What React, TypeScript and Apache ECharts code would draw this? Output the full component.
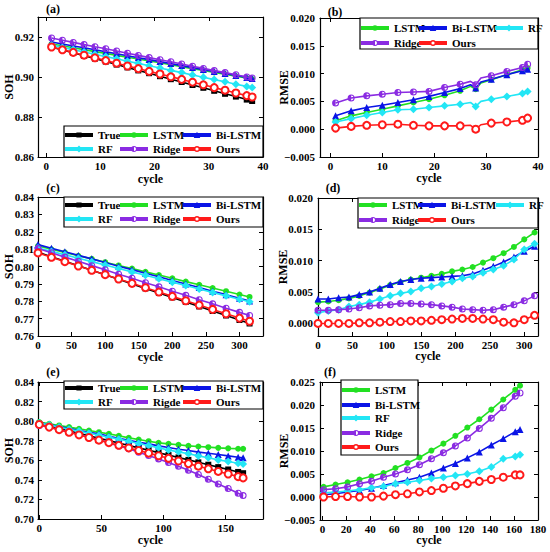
import React, { useEffect, useRef } from "react";
import * as echarts from "echarts";

const FONT = '"Liberation Serif", "Times New Roman", serif';

// ---------- (a) SOH, 38 cycles ----------
const A_X = [1, 3, 5, 7, 9, 11, 13, 15, 17, 19, 21, 23, 25, 27, 29, 31, 33, 35, 37, 38];
const A_TRUE = [0.9150, 0.9135, 0.9121, 0.9106, 0.9092, 0.9077, 0.9062, 0.9048, 0.9033, 0.9019, 0.9004, 0.8989, 0.8975, 0.8960, 0.8946, 0.8931, 0.8916, 0.8902, 0.8887, 0.8880];
const A_LSTM = [0.9165, 0.9156, 0.9146, 0.9137, 0.9127, 0.9118, 0.9108, 0.9099, 0.9090, 0.9080, 0.9071, 0.9061, 0.9052, 0.9042, 0.9033, 0.9023, 0.9014, 0.9004, 0.8995, 0.8990];
const A_BILSTM = [0.9175, 0.9165, 0.9155, 0.9146, 0.9136, 0.9126, 0.9116, 0.9106, 0.9096, 0.9087, 0.9077, 0.9067, 0.9057, 0.9047, 0.9037, 0.9028, 0.9018, 0.9008, 0.8998, 0.8993];
const A_RF = [0.9160, 0.9148, 0.9137, 0.9125, 0.9114, 0.9102, 0.9091, 0.9079, 0.9068, 0.9056, 0.9045, 0.9033, 0.9022, 0.9010, 0.8999, 0.8987, 0.8976, 0.8964, 0.8953, 0.8947];
const A_RIDGE = [0.9195, 0.9184, 0.9173, 0.9162, 0.9151, 0.9141, 0.9130, 0.9119, 0.9108, 0.9097, 0.9086, 0.9076, 0.9065, 0.9054, 0.9043, 0.9032, 0.9022, 0.9011, 0.9000, 0.8995];
const A_OURS = [0.9150, 0.9136, 0.9123, 0.9109, 0.9096, 0.9082, 0.9069, 0.9055, 0.9042, 0.9028, 0.9015, 0.9001, 0.8988, 0.8974, 0.8961, 0.8947, 0.8934, 0.8920, 0.8907, 0.8900];

// ---------- (b) RMSE, 38 cycles ----------
const B_X = [1, 4, 7, 10, 13, 16, 19, 22, 25, 27, 28, 29, 31, 34, 37, 38];
const B_NOMARK = [27, 29];
const B_LSTM = [0.0015, 0.0024, 0.0030, 0.0036, 0.0042, 0.0048, 0.0054, 0.0061, 0.0069, 0.0077, 0.0072, 0.0083, 0.0089, 0.0098, 0.0107, 0.0110];
const B_BILSTM = [0.0024, 0.0033, 0.0039, 0.0043, 0.0048, 0.0053, 0.0059, 0.0066, 0.0073, 0.0080, 0.0074, 0.0085, 0.0090, 0.0098, 0.0105, 0.0108];
const B_RF = [0.0013, 0.0019, 0.0025, 0.0030, 0.0035, 0.0036, 0.0039, 0.0042, 0.0045, 0.0048, 0.0041, 0.0050, 0.0054, 0.0059, 0.0064, 0.0068];
const B_RIDGE = [0.0047, 0.0056, 0.0060, 0.0063, 0.0066, 0.0067, 0.0068, 0.0075, 0.0081, 0.0086, 0.0080, 0.0092, 0.0096, 0.0104, 0.0111, 0.0117];
const B_OURS = [0.0002, 0.0005, 0.0007, 0.0008, 0.0009, 0.0007, 0.0006, 0.0006, 0.0006, 0.0007, 0.0000, 0.0008, 0.0011, 0.0013, 0.0016, 0.0020];

// ---------- (c) SOH, 315 cycles ----------
const C_X = [0, 20, 40, 60, 80, 100, 120, 140, 160, 180, 200, 220, 240, 260, 280, 300, 315];
const C_TRUE = [0.8082, 0.8056, 0.8030, 0.8004, 0.7978, 0.7952, 0.7926, 0.7900, 0.7874, 0.7848, 0.7822, 0.7796, 0.7770, 0.7744, 0.7718, 0.7692, 0.7672];
const C_LSTM = [0.8118, 0.8099, 0.8081, 0.8062, 0.8044, 0.8025, 0.8006, 0.7988, 0.7969, 0.7951, 0.7932, 0.7913, 0.7895, 0.7876, 0.7858, 0.7839, 0.7825];
const C_BILSTM = [0.8126, 0.8105, 0.8085, 0.8064, 0.8044, 0.8023, 0.8002, 0.7982, 0.7961, 0.7941, 0.7920, 0.7899, 0.7879, 0.7858, 0.7838, 0.7817, 0.7802];
const C_RF = [0.8107, 0.8087, 0.8068, 0.8048, 0.8028, 0.8009, 0.7989, 0.7969, 0.7950, 0.7930, 0.7910, 0.7891, 0.7871, 0.7851, 0.7831, 0.7812, 0.7797];
const C_RIDGE = [0.8103, 0.8079, 0.8054, 0.8030, 0.8005, 0.7981, 0.7956, 0.7932, 0.7907, 0.7883, 0.7858, 0.7834, 0.7809, 0.7785, 0.7760, 0.7736, 0.7718];
const C_OURS = [0.8078, 0.8053, 0.8028, 0.8003, 0.7978, 0.7953, 0.7928, 0.7903, 0.7878, 0.7853, 0.7828, 0.7803, 0.7778, 0.7753, 0.7728, 0.7703, 0.7685];

// ---------- (d) RMSE, 315 cycles ----------
const D_X = [0, 15, 30, 45, 60, 75, 90, 105, 120, 135, 150, 165, 180, 195, 210, 225, 240, 255, 270, 285, 300, 315];
const D_LSTM = [0.0034, 0.0035, 0.0037, 0.0040, 0.0044, 0.0049, 0.0055, 0.0061, 0.0066, 0.0070, 0.0073, 0.0076, 0.0079, 0.0083, 0.0086, 0.0090, 0.0097, 0.0104, 0.0112, 0.0122, 0.0134, 0.0145];
const D_BILSTM = [0.0039, 0.0039, 0.0041, 0.0042, 0.0046, 0.0050, 0.0056, 0.0062, 0.0067, 0.0070, 0.0072, 0.0073, 0.0074, 0.0075, 0.0076, 0.0079, 0.0085, 0.0091, 0.0098, 0.0106, 0.0115, 0.0123];
const D_RF = [0.0017, 0.0020, 0.0022, 0.0027, 0.0030, 0.0034, 0.0039, 0.0044, 0.0048, 0.0051, 0.0056, 0.0059, 0.0063, 0.0067, 0.0072, 0.0075, 0.0081, 0.0086, 0.0092, 0.0102, 0.0118, 0.0127];
const D_RIDGE = [0.0021, 0.0021, 0.0022, 0.0023, 0.0025, 0.0028, 0.0029, 0.0030, 0.0032, 0.0032, 0.0031, 0.0030, 0.0028, 0.0026, 0.0023, 0.0022, 0.0021, 0.0022, 0.0026, 0.0030, 0.0036, 0.0044];
const D_OURS = [0.0000, 0.0000, 0.0000, 0.0000, 0.0001, 0.0001, 0.0002, 0.0003, 0.0003, 0.0004, 0.0004, 0.0005, 0.0006, 0.0007, 0.0008, 0.0008, 0.0007, 0.0006, 0.0002, 0.0001, 0.0006, 0.0013];

// ---------- (e) SOH, 164 cycles ----------
const E_X = [0, 8, 16, 24, 32, 40, 48, 56, 64, 72, 80, 88, 96, 104, 112, 120, 128, 136, 144, 152, 160, 164];
const E_TRUE = [0.7973, 0.7948, 0.7924, 0.7899, 0.7875, 0.7850, 0.7825, 0.7801, 0.7776, 0.7752, 0.7727, 0.7702, 0.7678, 0.7653, 0.7629, 0.7604, 0.7579, 0.7555, 0.7530, 0.7506, 0.7481, 0.7468];
const E_LSTM = [0.7990, 0.7973, 0.7956, 0.7939, 0.7922, 0.7904, 0.7887, 0.7870, 0.7850, 0.7829, 0.7812, 0.7795, 0.7778, 0.7768, 0.7758, 0.7747, 0.7741, 0.7734, 0.7727, 0.7722, 0.7718, 0.7717];
const E_BILSTM = [0.7983, 0.7966, 0.7945, 0.7928, 0.7904, 0.7887, 0.7870, 0.7846, 0.7826, 0.7805, 0.7785, 0.7768, 0.7747, 0.7730, 0.7713, 0.7700, 0.7683, 0.7672, 0.7659, 0.7645, 0.7631, 0.7625];
const E_RF = [0.7980, 0.7962, 0.7939, 0.7918, 0.7898, 0.7877, 0.7857, 0.7836, 0.7816, 0.7795, 0.7771, 0.7751, 0.7727, 0.7706, 0.7686, 0.7666, 0.7645, 0.7625, 0.7604, 0.7587, 0.7570, 0.7563];
const E_RIGDE = [0.7956, 0.7939, 0.7911, 0.7887, 0.7863, 0.7836, 0.7809, 0.7778, 0.7747, 0.7717, 0.7683, 0.7648, 0.7614, 0.7577, 0.7539, 0.7498, 0.7454, 0.7406, 0.7358, 0.7311, 0.7263, 0.7239];
const E_OURS = [0.7966, 0.7939, 0.7913, 0.7886, 0.7859, 0.7833, 0.7806, 0.7780, 0.7753, 0.7726, 0.7700, 0.7673, 0.7646, 0.7620, 0.7593, 0.7566, 0.7540, 0.7513, 0.7486, 0.7460, 0.7433, 0.7420];

// ---------- (f) RMSE, 165 cycles ----------
const F_X = [1, 11, 21, 31, 41, 51, 61, 71, 81, 91, 101, 111, 121, 131, 141, 151, 161, 165];
const F_LSTM = [0.0022, 0.0027, 0.0032, 0.0038, 0.0045, 0.0052, 0.0063, 0.0074, 0.0086, 0.0101, 0.0116, 0.0133, 0.0151, 0.0169, 0.0190, 0.0212, 0.0233, 0.0242];
const F_BILSTM = [0.0005, 0.0007, 0.0011, 0.0014, 0.0019, 0.0025, 0.0031, 0.0037, 0.0043, 0.0052, 0.0063, 0.0073, 0.0085, 0.0098, 0.0113, 0.0127, 0.0142, 0.0147];
const F_RF = [0.0009, 0.0011, 0.0013, 0.0016, 0.0020, 0.0023, 0.0029, 0.0032, 0.0036, 0.0040, 0.0043, 0.0047, 0.0050, 0.0056, 0.0065, 0.0083, 0.0088, 0.0092];
const F_RIDGE = [0.0016, 0.0018, 0.0022, 0.0029, 0.0034, 0.0043, 0.0050, 0.0059, 0.0070, 0.0083, 0.0096, 0.0111, 0.0128, 0.0149, 0.0171, 0.0194, 0.0219, 0.0226];
const F_OURS = [0.0000, 0.0001, 0.0001, 0.0000, 0.0000, 0.0002, 0.0005, 0.0007, 0.0011, 0.0014, 0.0019, 0.0024, 0.0029, 0.0034, 0.0038, 0.0043, 0.0048, 0.0048];

// ---------- tick values ----------
const X_TICKS_38 = [0, 10, 20, 30, 40];
const X_TICKS_300 = [0, 50, 100, 150, 200, 250, 300];
const X_TICKS_150 = [0, 50, 100, 150];
const X_TICKS_180 = [0, 20, 40, 60, 80, 100, 120, 140, 160, 180];
const Y_TICKS_A = [0.86, 0.88, 0.9, 0.92];
const Y_TICKS_B = [-0.005, 0, 0.005, 0.01, 0.015, 0.02];
const Y_TICKS_C = [0.76, 0.77, 0.78, 0.79, 0.8, 0.81, 0.82, 0.83, 0.84];
const Y_TICKS_D = [0, 0.005, 0.01, 0.015, 0.02];
const Y_TICKS_E = [0.7, 0.72, 0.74, 0.76, 0.78, 0.8, 0.82, 0.84];
const Y_TICKS_F = [-0.005, 0, 0.005, 0.01, 0.015, 0.02, 0.025];

// plot markers
const HALF = "path://M10,0A10,10,0,1,1,10,20A10,10,0,1,1,10,0ZM10,3L10,17A7,7,0,0,0,10,3Z";

// legend icons (exact 28 x 8 box, fixed by two tiny corner specks): thick line + small marker
const CORNERS = "M0,0L0.01,0L0,0.01ZM28,8L27.99,8L28,7.99Z";
const BAR_FULL = "M0,2H28V6H0Z";
const BAR_SPLIT = "M0,2H12V6H0ZM16,2H28V6H16Z";
const RING = "M16.9,4A2.9,2.9,0,1,1,11.1,4A2.9,2.9,0,1,1,16.9,4Z";
const ICONS: Record<string, string> = {
  True: "path://" + CORNERS + BAR_FULL + "M11.4,1.4H16.6V6.6H11.4Z",
  LSTM: "path://" + CORNERS + BAR_FULL + "M16.8,4A2.8,2.8,0,1,1,11.2,4A2.8,2.8,0,1,1,16.8,4Z",
  "Bi-LSTM": "path://" + CORNERS + BAR_FULL + "M14,0.8L17.3,6.9L10.7,6.9Z",
  RF: "path://" + CORNERS + BAR_FULL + "M14,0.6L17.4,4L14,7.4L10.6,4Z",
  Ridge: "path://" + CORNERS + BAR_SPLIT + RING + "M14,2L14,6A2,2,0,0,0,14,2Z",
  Rigde: "path://" + CORNERS + BAR_SPLIT + RING + "M14,2L14,6A2,2,0,0,0,14,2Z",
  Ours: "path://" + CORNERS + BAR_SPLIT + RING + "M15.6,4A1.6,1.6,0,1,0,12.4,4A1.6,1.6,0,1,0,15.6,4Z",
};

const STYLES: Record<string, { color: string; symbol: string; size: number }> = {
  True: { color: "#000000", symbol: "rect", size: 6 },
  LSTM: { color: "#22e022", symbol: "circle", size: 6 },
  "Bi-LSTM": { color: "#0a14e6", symbol: "triangle", size: 7 },
  RF: { color: "#22e6f5", symbol: "diamond", size: 8 },
  Ridge: { color: "#8a2be2", symbol: HALF, size: 7 },
  Rigde: { color: "#8a2be2", symbol: HALF, size: 7 },
  Ours: { color: "#ff1a1a", symbol: "emptyCircle", size: 7 },
};

const COLS3 = [65, 120, 183];

const PANELS: any[] = [
  {
    label: "(a)", labelPos: [53, 9],
    grid: { left: 38, top: 17, width: 225, height: 140 },
    xMin: -1.5, xMax: 40, xTicks: X_TICKS_38, xNameGap: 16,
    yMin: 0.86, yMax: 0.93, yTicks: Y_TICKS_A, yDec: 2, yName: "SOH", yNameGap: 23, yLabelMargin: 4,
    x: A_X, noMark: [],
    series: [["True", A_TRUE], ["LSTM", A_LSTM], ["Bi-LSTM", A_BILSTM], ["RF", A_RF], ["Ridge", A_RIDGE], ["Ours", A_OURS]],
    legend: [["True", COLS3[0], 135], ["LSTM", COLS3[1], 135], ["Bi-LSTM", COLS3[2], 135], ["RF", COLS3[0], 149], ["Ridge", COLS3[1], 149], ["Ours", COLS3[2], 149]],
    box: [64, 126, 199, 31],
  },
  {
    label: "(b)", labelPos: [335, 12],
    grid: { left: 320, top: 18, width: 218, height: 139 },
    xMin: -2, xMax: 40, xTicks: X_TICKS_38, xNameGap: 15,
    yMin: -0.005, yMax: 0.02, yTicks: Y_TICKS_B, yDec: 3, yName: "RMSE", yNameGap: 30, yLabelMargin: 5,
    x: B_X, noMark: B_NOMARK,
    series: [["LSTM", B_LSTM], ["Bi-LSTM", B_BILSTM], ["RF", B_RF], ["Ridge", B_RIDGE], ["Ours", B_OURS]],
    legend: [["LSTM", 361, 28], ["Bi-LSTM", 419, 28], ["RF", 495, 28], ["Ridge", 361, 43], ["Ours", 419, 43]],
    box: [360, 18, 178, 31],
  },
  {
    label: "(c)", labelPos: [53, 188],
    grid: { left: 38, top: 197, width: 225, height: 139 },
    xMin: 0, xMax: 335, xTicks: X_TICKS_300, xNameGap: 15,
    yMin: 0.76, yMax: 0.84, yTicks: Y_TICKS_C, yDec: 2, yName: "SOH", yNameGap: 23, yLabelMargin: 4,
    x: C_X, noMark: [],
    series: [["True", C_TRUE], ["LSTM", C_LSTM], ["Bi-LSTM", C_BILSTM], ["RF", C_RF], ["Ridge", C_RIDGE], ["Ours", C_OURS]],
    legend: [["True", COLS3[0], 205], ["LSTM", COLS3[1], 205], ["Bi-LSTM", COLS3[2], 205], ["RF", COLS3[0], 219], ["Ridge", COLS3[1], 219], ["Ours", COLS3[2], 219]],
    box: [64, 197, 199, 30],
  },
  {
    label: "(d)", labelPos: [333, 188],
    grid: { left: 318, top: 198, width: 220, height: 138 },
    xMin: 0, xMax: 320, xTicks: X_TICKS_300, xNameGap: 14,
    yMin: -0.002, yMax: 0.02, yTicks: Y_TICKS_D, yDec: 3, yName: "RMSE", yNameGap: 29, yLabelMargin: 5,
    x: D_X, noMark: [],
    series: [["LSTM", D_LSTM], ["Bi-LSTM", D_BILSTM], ["RF", D_RF], ["Ridge", D_RIDGE], ["Ours", D_OURS]],
    legend: [["LSTM", 359, 205], ["Bi-LSTM", 418, 205], ["RF", 496, 205], ["Ridge", 359, 220], ["Ours", 418, 220]],
    box: [358, 198, 180, 30],
  },
  {
    label: "(e)", labelPos: [53, 372],
    grid: { left: 38, top: 382, width: 225, height: 137 },
    xMin: -1, xMax: 180, xTicks: X_TICKS_150, xNameGap: 15,
    yMin: 0.7, yMax: 0.84, yTicks: Y_TICKS_E, yDec: 2, yName: "SOH", yNameGap: 23, yLabelMargin: 4,
    x: E_X, noMark: [],
    series: [["True", E_TRUE], ["LSTM", E_LSTM], ["Bi-LSTM", E_BILSTM], ["RF", E_RF], ["Rigde", E_RIGDE], ["Ours", E_OURS]],
    legend: [["True", COLS3[0], 388], ["LSTM", COLS3[1], 388], ["Bi-LSTM", COLS3[2], 388], ["RF", COLS3[0], 402], ["Rigde", COLS3[1], 402], ["Ours", COLS3[2], 402]],
    box: [64, 381, 199, 28],
  },
  {
    label: "(f)", labelPos: [330, 372],
    grid: { left: 320, top: 382, width: 218, height: 138 },
    xMin: -2, xMax: 180, xTicks: X_TICKS_180, xNameGap: 14,
    yMin: -0.005, yMax: 0.025, yTicks: Y_TICKS_F, yDec: 3, yName: "RMSE", yNameGap: 30, yLabelMargin: 5,
    x: F_X, noMark: [],
    series: [["LSTM", F_LSTM], ["Bi-LSTM", F_BILSTM], ["RF", F_RF], ["Ridge", F_RIDGE], ["Ours", F_OURS]],
    legend: [["LSTM", 342, 390], ["Bi-LSTM", 342, 405], ["RF", 342, 418], ["Ridge", 342, 433], ["Ours", 342, 447]],
    box: [341, 380, 77, 75],
  },
];

function buildOption() {
  const grids: any[] = [];
  const xAxes: any[] = [];
  const yAxes: any[] = [];
  const series: any[] = [];
  const legends: any[] = [];
  const graphics: any[] = [];

  const lab = { color: "#000", fontFamily: FONT, fontWeight: "bold", fontSize: 11 };
  const axisLine = { show: true, onZero: false, lineStyle: { color: "#000", width: 1.2 } };
  const tick = (vals: number[]) => ({ show: true, inside: true, length: 4, customValues: vals, lineStyle: { color: "#000", width: 1 } });

  PANELS.forEach((p, i) => {
    grids.push({ ...p.grid, containLabel: false, outerBoundsMode: "none" });

    const fmtY = (v: number) => (v < -1e-12 ? "\u2212" + Math.abs(v).toFixed(p.yDec) : Math.abs(v).toFixed(p.yDec));

    xAxes.push({
      type: "value", gridIndex: i, position: "bottom", min: p.xMin, max: p.xMax,
      axisLine, axisTick: tick(p.xTicks),
      axisLabel: { ...lab, customValues: p.xTicks, margin: 3, formatter: (v: number) => String(Math.round(v)) },
      splitLine: { show: false },
      name: "cycle", nameLocation: "middle", nameGap: p.xNameGap, nameMoveOverlap: false,
      nameTextStyle: { ...lab, fontSize: 12 },
    });
    xAxes.push({
      type: "value", gridIndex: i, position: "top", min: p.xMin, max: p.xMax,
      axisLine, axisTick: tick(p.xTicks), axisLabel: { show: false }, splitLine: { show: false },
    });
    yAxes.push({
      type: "value", gridIndex: i, position: "left", min: p.yMin, max: p.yMax,
      axisLine, axisTick: tick(p.yTicks),
      axisLabel: { ...lab, customValues: p.yTicks, margin: p.yLabelMargin, formatter: fmtY },
      splitLine: { show: false },
      name: p.yName, nameLocation: "middle", nameGap: p.yNameGap, nameMoveOverlap: false,
      nameTextStyle: { ...lab, fontSize: 12 },
    });
    yAxes.push({
      type: "value", gridIndex: i, position: "right", min: p.yMin, max: p.yMax,
      axisLine, axisTick: tick(p.yTicks), axisLabel: { show: false }, splitLine: { show: false },
    });

    p.series.forEach(([name, vals]: [string, number[]], k: number) => {
      const st = STYLES[name];
      series.push({
        type: "line", name, xAxisIndex: 2 * i, yAxisIndex: 2 * i,
        data: p.x.map((x: number, j: number) =>
          p.noMark.includes(x) ? { value: [x, vals[j]], symbol: "none" } : [x, vals[j]]
        ),
        symbol: st.symbol, symbolSize: st.size, symbolKeepAspect: true, showAllSymbol: true,
        lineStyle: { color: st.color, width: 1.6 },
        itemStyle: { color: st.color, borderColor: st.color, borderWidth: name === "Ours" ? 1.6 : 0 },
        emphasis: { disabled: true }, silent: true, z: 2 + k,
      });
    });

    p.legend.forEach(([name, x, cy]: [string, number, number]) => {
      legends.push({
        data: [{ name, icon: ICONS[name] }], left: x, top: cy - 7, orient: "horizontal", padding: 0,
        itemWidth: 28, itemHeight: 8, itemGap: 0, itemTextGap: 2, selectedMode: false,
        symbolKeepAspect: true,
        textStyle: { color: "#000", fontFamily: FONT, fontWeight: "bold", fontSize: 11, lineHeight: 14 },
        itemStyle: { color: STYLES[name].color, borderWidth: 0 },
        z: 60,
      });
    });

    const [bx, by, bw, bh] = p.box;
    graphics.push({
      type: "rect", z: 50, silent: true,
      shape: { x: bx, y: by, width: bw, height: bh },
      style: { fill: "#fff", stroke: "#000", lineWidth: 1.2 },
    });
    graphics.push({
      type: "text", z: 60, silent: true, x: p.labelPos[0], y: p.labelPos[1],
      style: {
        text: p.label, font: `bold 12px ${FONT}`, fill: "#000",
        textAlign: "center", textVerticalAlign: "middle", align: "center", verticalAlign: "middle",
      },
    });
  });

  return {
    animation: false,
    backgroundColor: "#fff",
    grid: grids,
    xAxis: xAxes,
    yAxis: yAxes,
    series,
    legend: legends,
    graphic: { elements: graphics },
  };
}

export default function App() {
  const ref = useRef<HTMLDivElement>(null);
  useEffect(() => {
    if (!ref.current) return;
    const chart = echarts.init(ref.current, undefined, { renderer: "svg" });
    chart.setOption(buildOption() as any);
    return () => chart.dispose();
  }, []);
  return (
    <div
      ref={ref}
      style={{ position: "fixed", left: 0, top: 0, width: 550, height: 552, background: "#fff" }}
    />
  );
}
